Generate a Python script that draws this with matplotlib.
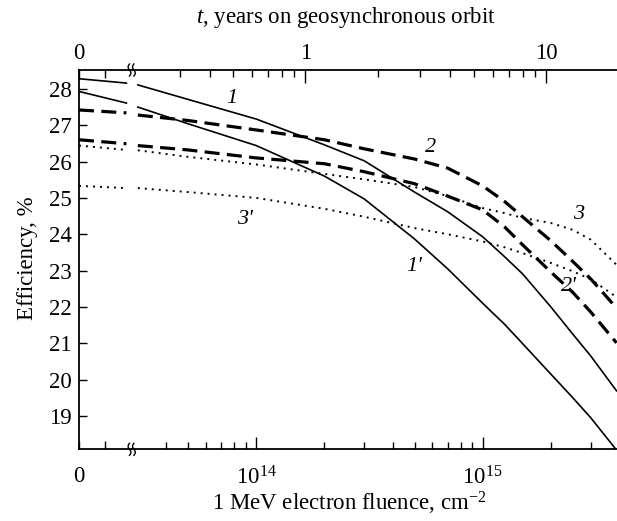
import numpy as np
import matplotlib
matplotlib.use("Agg")
import matplotlib.pyplot as plt
from matplotlib.lines import Line2D
from matplotlib.ticker import FixedLocator, NullFormatter, LogFormatterMathtext

plt.rcParams['font.family'] = ['Liberation Serif', 'DejaVu Serif']
plt.rcParams['mathtext.fontset'] = 'custom'
plt.rcParams['mathtext.rm'] = 'Liberation Serif'
plt.rcParams['mathtext.it'] = 'Liberation Serif:italic'

# --- data -------------------------------------------------------------
# 1 MeV electron fluence, cm^-2 (log part of the axis)
fluence = [3e13, 5e13, 1e14, 2e14, 3e14, 5e14, 7e14, 1e15, 1.25e15, 1.5e15,
           2e15, 2.5e15, 3e15, 3.9e15]
# short linear part before the axis break (starts at zero fluence)
fluence_zero = [0, 1.8e13]

eff_1_zero = [28.28, 28.16]
eff_1 = [28.11, 27.71, 27.17, 26.46, 26.02, 25.16, 24.62, 23.93, 23.38, 22.91,
         22.0, 21.25, 20.65, 19.69]
eff_1p_zero = [27.93, 27.61]
eff_1p = [27.5, 27.04, 26.44, 25.6, 24.97, 23.87, 23.05, 22.1, 21.52, 20.99,
          20.15, 19.5, 18.95, 18.06]
eff_2_zero = [27.42, 27.34]
eff_2 = [27.28, 27.13, 26.87, 26.6, 26.35, 26.07, 25.82, 25.33, 24.9, 24.48,
         23.82, 23.25, 22.77, 21.97]
eff_2p_zero = [26.6, 26.49]
eff_2p = [26.44, 26.32, 26.1, 25.94, 25.72, 25.39, 25.05, 24.67, 24.2, 23.71,
          22.96, 22.4, 21.86, 21.01]
eff_3_zero = [26.44, 26.32]
eff_3 = [26.31, 26.13, 25.92, 25.66, 25.51, 25.3, 25.05, 24.72, 24.58, 24.45,
         24.31, 24.12, 23.85, 23.16]
eff_3p_zero = [25.33, 25.27]
eff_3p = [25.27, 25.16, 25.0, 24.7, 24.48, 24.17, 24.0, 23.8, 23.64, 23.48,
          23.21, 22.98, 22.76, 22.27]

curve_labels = ["1", "1'", "2", "2'", "3", "3'"]
label_fluence = [7.8e13, 5.0e14, 5.9e14, 2.4e15, 2.66e15, 8.9e13]
label_eff = [27.74, 23.1, 26.4, 22.55, 24.53, 24.4]

# top axis: years on geosynchronous orbit
years_major = [1, 10]
years_minor = [0.3, 0.4, 0.5, 0.6, 0.7, 0.8, 0.9, 2, 3, 4, 5, 6, 7, 8, 9]
# fluence accumulated after 1 and 10 years
FL_1YR = 1.65e14
FL_10YR = 1.91e15

# --- figure -----------------------------------------------------------
W, H = 617, 521
fig = plt.figure(figsize=(W / 100, H / 100), dpi=100)


def box(x0, x1, ytop, ybot):
    return [x0 / W, 1 - ybot / H, (x1 - x0) / W, (ybot - ytop) / H]


X0, XB, X1 = 79, 131.7, 616.5
YT, YB = 70, 449.3
ax0 = fig.add_axes(box(X0, XB, YT, YB))
ax1 = fig.add_axes(box(XB, X1, YT, YB), sharey=ax0)

solid = dict(color='black', lw=1.2, ls='-')
dashed = dict(color='black', lw=2.3, ls=(0, (4.7, 2.3)))
dotted = dict(color='black', lw=1.4, ls=(0, (1, 2.6)))

series = [
    (eff_1_zero, eff_1, solid),
    (eff_1p_zero, eff_1p, solid),
    (eff_2_zero, eff_2, dashed),
    (eff_2p_zero, eff_2p, dashed),
    (eff_3_zero, eff_3, dotted),
    (eff_3p_zero, eff_3p, dotted),
]
for y0, y1, st in series:
    ax0.plot(fluence_zero, y0, **st)
    ax1.plot(fluence, y1, **st)

for lab, fx, fy in zip(curve_labels, label_fluence, label_eff):
    ax1.text(fx, fy, lab, style='italic', fontsize=16, ha='center', va='center')

FS = 16.5
PAD_BOTTOM = 12
ax0.set_xlim(0, 2e13)
ax0.set_ylim(18.08, 28.52)
ax0.set_yticks(range(19, 29))
ax0.set_xticks([0, 1e13])
ax0.set_xticklabels(['0', ''])
ax0.tick_params(axis='both', direction='in', labelsize=FS, length=6, width=1)
ax0.tick_params(axis='x', pad=PAD_BOTTOM)
ax0.tick_params(axis='y', pad=5)

# top ticks of the left (zero) piece
top0 = ax0.twiny()
top0.set_xlim(ax0.get_xlim())
top0.set_xticks([0, 1e13])
top0.set_xticklabels(['0', ''])
top0.tick_params(axis='x', direction='in', labelsize=FS, length=6, width=1, pad=4)
for s in top0.spines.values():
    s.set_visible(False)

FMIN, FMAX = 10 ** 13.45, 3.9e15
ax1.set_xscale('log')
ax1.set_xlim(FMIN, FMAX)
ax1.xaxis.set_major_locator(FixedLocator([1e14, 1e15]))
ax1.xaxis.set_major_formatter(LogFormatterMathtext())
minor = [m * 10 ** e for e in (13, 14, 15) for m in range(2, 10)]
ax1.xaxis.set_minor_locator(FixedLocator([v for v in minor if v >= 4e13]))
ax1.xaxis.set_minor_formatter(NullFormatter())
ax1.tick_params(axis='x', which='major', direction='in', length=9, width=1,
                labelsize=FS, pad=PAD_BOTTOM)
ax1.tick_params(axis='x', which='minor', direction='in', length=5, width=1)
ax1.tick_params(axis='y', left=False, labelleft=False)

# log(years) is linear in log(fluence): a log twin axis with matched limits
a = np.log10(FL_1YR)
b = np.log10(FL_10YR) - a


def fl_to_yr(f):
    return 10 ** ((np.log10(f) - a) / b)


top = ax1.twiny()
top.set_xscale('log')
top.set_xlim(fl_to_yr(FMIN), fl_to_yr(FMAX))
top.xaxis.set_major_locator(FixedLocator(years_major))
top.xaxis.set_major_formatter(plt.FuncFormatter(lambda v, p: f"{v:g}"))
top.xaxis.set_minor_locator(FixedLocator(years_minor))
top.xaxis.set_minor_formatter(NullFormatter())
top.tick_params(axis='x', which='major', direction='in', length=9, width=1, labelsize=FS, pad=4)
top.tick_params(axis='x', which='minor', direction='in', length=5, width=1)
top.tick_params(axis='y', right=False, labelright=False)
for s in top.spines.values():
    s.set_visible(False)

for s in ax0.spines.values():
    s.set_linewidth(1.3)
for s in ax1.spines.values():
    s.set_linewidth(1.3)
ax1.spines['right'].set_visible(False)
ax1.spines['left'].set_visible(False)
ax0.spines['right'].set_visible(False)

# axis break marks
for yy in (YT, YB):
    for dx in (-2.2, 2.2):
        t = np.linspace(0, 1, 30)
        xs = (XB + dx + 1.4 * np.sin(2 * np.pi * t)) / W
        ys = 1 - (yy + 6 - 12 * t) / H
        fig.add_artist(Line2D(xs, ys, color='black', lw=1.0))

fig.text(349 / W, 1 - 503 / H, "1 MeV electron fluence, cm$^{-2}$", ha='center', va='center', fontsize=FS)
fig.text(346 / W, 1 - 17 / H, "$t$, years on geosynchronous orbit", ha='center', va='center', fontsize=FS)
fig.text(28 / W, 1 - 258 / H, "Efficiency, %", ha='center', va='center', rotation=90, fontsize=FS)

fig.savefig("out.png", dpi=100)
